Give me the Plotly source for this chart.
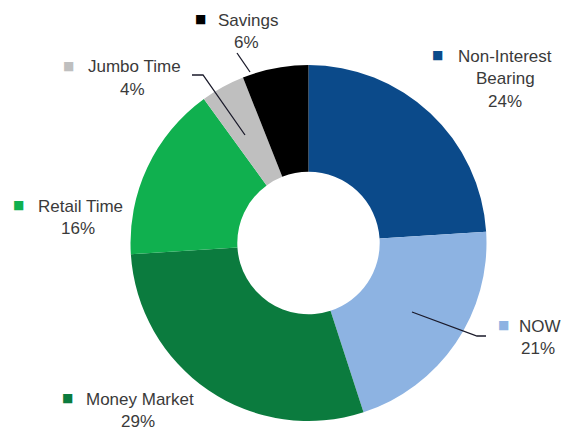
import plotly.graph_objects as go

W, H = 566, 431

categories = ["Non-Interest Bearing", "NOW", "Money Market", "Retail Time", "Jumbo Time", "Savings"]
values = [24, 21, 29, 16, 4, 6]
colors = ["#0B4A8A", "#8DB3E2", "#0B7B3E", "#10B04F", "#BFBFBF", "#000000"]
label_lines = [["Non-Interest", "Bearing"], ["NOW"], ["Money Market"], ["Retail Time"], ["Jumbo Time"], ["Savings"]]


def px(x, y):
    return x / W, 1 - y / H


fig = go.Figure()
fig.add_trace(go.Pie(
    labels=categories,
    values=values,
    marker=dict(colors=colors, line=dict(width=0)),
    hole=0.40,
    sort=False,
    direction="clockwise",
    rotation=0,
    textinfo="none",
    hoverinfo="label+percent",
    showlegend=False,
    domain=dict(x=[(308.5 - 178) / W, (308.5 + 178) / W], y=[1 - 421 / H, 1 - 65 / H]),
))

font = dict(family="Arial, Liberation Sans, sans-serif", size=17, color="#3a3a3a")

# label layout: (square center, first line center, line spacing)
label_pos = {
    "Non-Interest Bearing": ((437, 55), (505, 56)),
    "NOW": ((503, 325), (540, 326)),
    "Money Market": ((67, 398), (140, 399)),
    "Retail Time": ((18, 205), (80, 206)),
    "Jumbo Time": ((68, 66), (134, 67)),
    "Savings": ((200, 19), (248, 20)),
}
LS = 22.5

for cat, val, col, lines in zip(categories, values, colors, label_lines):
    (sx, sy), (tx, ty) = label_pos[cat]
    ax_, ay_ = px(sx, sy)
    fig.add_annotation(x=ax_, y=ay_, xref="paper", yref="paper", showarrow=False,
                       text="■", font=dict(family="DejaVu Sans", size=12, color=col),
                       xanchor="center", yanchor="middle")
    all_lines = lines + [f"{val}%"]
    for i, ln in enumerate(all_lines):
        cx = tx
        if i > 0 and cat == "Non-Interest Bearing":
            cx = 505
        elif i > 0:
            cx = tx - 2
        xx, yy = px(cx, ty + i * LS)
        fig.add_annotation(x=xx, y=yy, xref="paper", yref="paper", showarrow=False,
                           text=ln, font=font, xanchor="center", yanchor="middle")

# leader lines
leaders = [
    [(237, 53), (250, 72)],
    [(192, 75), (203, 75), (245, 135)],
    [(412, 312), (477, 336), (486, 336)],
]
for pts in leaders:
    p = [px(x, y) for x, y in pts]
    path = "M " + " L ".join(f"{a},{b}" for a, b in p)
    fig.add_shape(type="path", path=path, xref="paper", yref="paper",
                  line=dict(color="#1a1a2a", width=1.3))

fig.update_layout(
    width=W, height=H,
    margin=dict(l=0, r=0, t=0, b=0),
    paper_bgcolor="white",
    plot_bgcolor="white",
)

fig.write_html("out.html")
